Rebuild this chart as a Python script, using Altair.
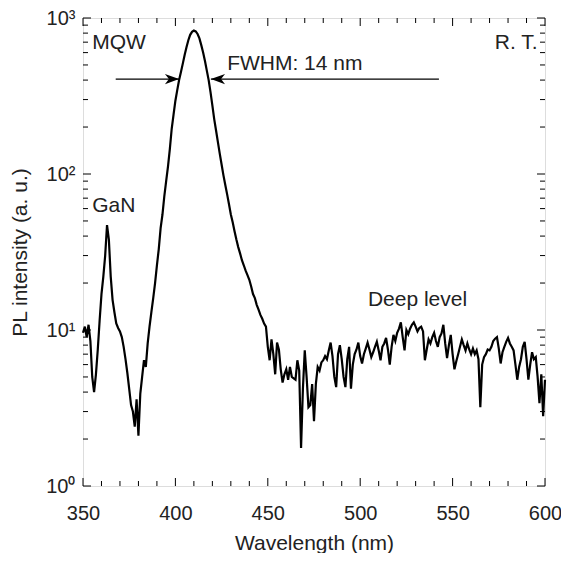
import altair as alt
import pandas as pd

# ---- spectrum ----
wavelength = list(range(350, 601))
intensity = [
    9.6, 10.5, 9.0, 10.8, 8.5, 5.0, 4.0, 5.2, 7.5, 11.5,
    17, 22, 30, 47, 38, 22, 15.6, 13, 11, 10.3,
    9.8, 9.0, 7.8, 6.5, 5.3, 4.2, 3.3, 3.0, 2.4, 3.6,
    2.1, 3.9, 5.0, 6.4, 5.8, 8.2, 10.5, 13, 16, 20,
    26, 33, 45, 55, 72, 90, 112, 145, 195, 240,
    295, 345, 400, 450, 510, 580, 650, 720, 780, 815,
    830, 820, 790, 740, 670, 600, 530, 460, 400, 335,
    275, 225, 190, 160, 135, 115, 98, 85, 74, 64,
    55, 49, 43, 38, 34, 31, 28, 26, 24, 22.5,
    21, 19, 17, 16, 14.5, 13.5, 12.5, 11.8, 11, 10.5,
    7.8, 6.4, 8.7, 7.0, 5.2, 8.3, 7.5, 5.6, 4.6, 5.2,
    5.6, 4.8, 5.8, 5.0, 4.9, 4.8, 6.4, 5.5, 1.75, 4.2,
    7.4, 5.0, 3.2, 3.3, 4.5, 2.6, 4.5, 5.8, 5.5, 6.2,
    6.4, 6.8, 6.5, 7.4, 8.3, 6.8, 5.0, 4.3, 7.0, 8.0,
    6.5, 5.0, 4.3, 6.5, 7.8, 4.2, 6.0, 7.0, 7.5, 8.3,
    6.8, 6.1, 7.0, 7.6, 8.3, 7.5, 6.7, 7.2, 7.8, 8.4,
    7.4, 6.4, 7.8, 8.2, 8.9, 7.5, 6.0, 7.8, 9.3, 8.5,
    9.6, 10.2, 11.2, 9.0, 7.4, 10.0, 9.4, 10.2, 10.8, 11.2,
    10.5, 9.8, 10.3, 10.5, 9.8, 6.4, 7.5, 8.7, 8.2, 9.0,
    9.6, 8.5, 7.8, 9.0, 9.5, 10.8, 8.2, 6.6, 8.0, 9.3,
    7.0, 5.6, 6.3, 7.0, 7.8, 8.7, 8.0, 7.4, 8.2, 7.5,
    7.0, 7.6, 7.0, 7.4, 6.5, 3.2, 6.0, 6.7, 7.0, 7.5,
    7.4, 7.8, 8.5, 8.8, 9.0, 7.6, 6.1, 7.2, 7.8, 8.4,
    8.9, 8.2, 7.8, 7.4, 6.0, 4.8, 5.8, 6.5, 7.8, 8.4,
    6.5, 4.8, 6.0, 7.2, 6.5, 6.7, 5.0, 3.4, 5.2, 2.8,
    4.8,
]

# ---- ticks ----
x_major = [350, 400, 450, 500, 550, 600]
x_minor = [v for v in range(350, 601, 10) if v % 50 != 0]
y_major = [1, 10, 100, 1000]
y_minor = [m * d for d in (1, 10, 100) for m in range(2, 10)]

# ---- annotations ----
label_text = ["MQW", "R. T.", "GaN", "FWHM: 14 nm", "Deep level"]
label_x = [355.0, 596.0, 355.0, 428.0, 531.0]
label_y = [690, 690, 62, 510, 15.5]
label_align = ["left", "right", "left", "left", "center"]

arrow_from = [367.7, 542.6]
arrow_to = [402.0, 419.2]
arrow_level = 406

W, H = 462, 468
FONT = "Liberation Sans"
TXT = "#222222"
FS = 20
FT = 21

spec = pd.DataFrame({"wl": wavelength, "I": intensity})
xs = alt.Scale(domain=[350, 600], nice=False, zero=False)
ys = alt.Scale(type="log", domain=[1, 1000], nice=False)

line = alt.Chart(spec).mark_line(color="black", strokeWidth=2.2).encode(
    x=alt.X("wl:Q", scale=xs, axis=alt.Axis(
        title="Wavelength (nm)", values=x_major, format="d", ticks=False, tickSize=0,
        domain=False, grid=False, labelFontSize=FS, titleFontSize=FT,
        labelPadding=17, titlePadding=9, labelColor=TXT, titleColor=TXT,
        labelFlush=False, labelFont=FONT, titleFont=FONT, titleFontWeight="normal")),
    y=alt.Y("I:Q", scale=ys, axis=alt.Axis(
        title="PL intensity (a. u.)", values=y_major, ticks=False, tickSize=0,
        labelExpr="datum.value == 1 ? '10⁰' : datum.value == 10 ? '10¹' : datum.value == 100 ? '10²' : '10³'",
        domain=False, grid=False, labelFontSize=FS, titleFontSize=FT,
        labelPadding=8, titlePadding=15, labelColor=TXT, titleColor=TXT,
        labelFlush=False, labelFont=FONT, titleFont=FONT, titleFontWeight="normal")),
)

def xticks(vals, length):
    df = pd.DataFrame({"v": vals})
    b = alt.Chart(df).mark_rule(color="black", strokeWidth=1).encode(
        x=alt.X("v:Q", scale=xs), y=alt.value(H), y2=alt.value(H - length))
    t = alt.Chart(df).mark_rule(color="black", strokeWidth=1).encode(
        x=alt.X("v:Q", scale=xs), y=alt.value(0), y2=alt.value(length))
    return [b, t]

def yticks(vals, length):
    df = pd.DataFrame({"v": vals})
    l = alt.Chart(df).mark_rule(color="black", strokeWidth=1).encode(
        y=alt.Y("v:Q", scale=ys), x=alt.value(0), x2=alt.value(length))
    r = alt.Chart(df).mark_rule(color="black", strokeWidth=1).encode(
        y=alt.Y("v:Q", scale=ys), x=alt.value(W), x2=alt.value(W - length))
    return [l, r]

ticks = xticks(x_major, 8) + xticks(x_minor, 5) + yticks(y_major, 8) + yticks(y_minor, 5)

lab = pd.DataFrame({"t": label_text, "x": label_x, "y": label_y, "a": label_align})
texts = []
for a in ["left", "right", "center"]:
    texts.append(alt.Chart(lab[lab.a == a]).mark_text(
        align=a, baseline="middle", fontSize=FT, font=FONT, color=TXT).encode(
        x=alt.X("x:Q", scale=xs), y=alt.Y("y:Q", scale=ys), text="t:N"))

arr = pd.DataFrame({"x1": arrow_from, "x2": arrow_to, "y": [arrow_level] * 2})
arrow_lines = alt.Chart(arr).mark_rule(color="black", strokeWidth=1.2).encode(
    x=alt.X("x1:Q", scale=xs), x2="x2:Q", y=alt.Y("y:Q", scale=ys))
head_r = alt.Chart(arr.iloc[[0]]).mark_point(
    shape="M0,0L-1,-0.36L-0.72,0L-1,0.36Z", filled=True, color="black", size=800, opacity=1).encode(
    x=alt.X("x2:Q", scale=xs), y=alt.Y("y:Q", scale=ys))
head_l = alt.Chart(arr.iloc[[1]]).mark_point(
    shape="M0,0L1,-0.36L0.72,0L1,0.36Z", filled=True, color="black", size=800, opacity=1).encode(
    x=alt.X("x2:Q", scale=xs), y=alt.Y("y:Q", scale=ys))

chart = alt.layer(line, *ticks, arrow_lines, head_r, head_l, *texts).properties(
    width=W, height=H,
    autosize=alt.AutoSizeParams(type="none"),
    padding={"left": 75, "top": 10, "right": 16, "bottom": 67},
).configure_view(stroke="black", strokeWidth=1.5).configure(background="white")

chart.save("out.html", embed_options={"renderer": "svg", "actions": False})
